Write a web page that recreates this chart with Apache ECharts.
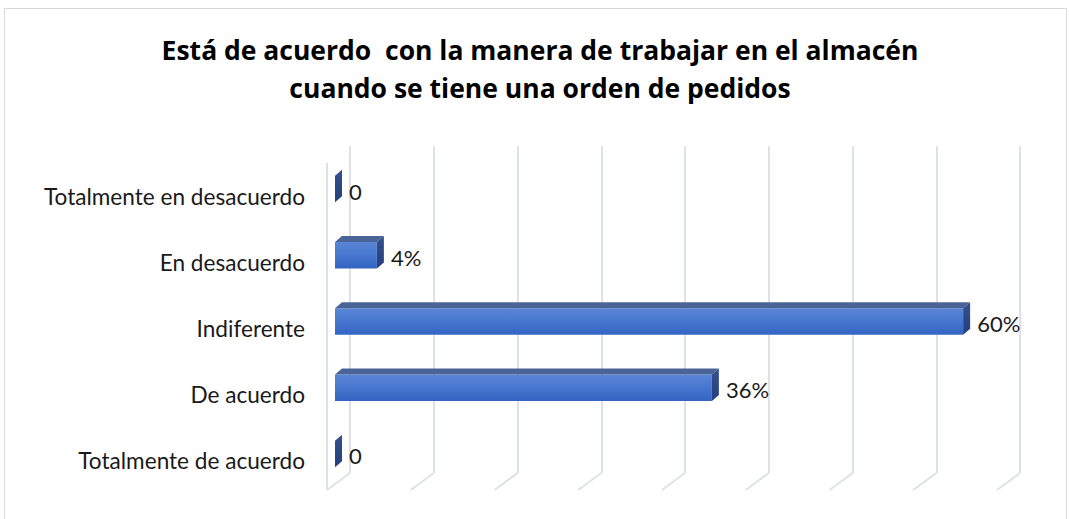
<!DOCTYPE html>
<html><head><meta charset="utf-8">
<script src="https://cdn.jsdelivr.net/npm/echarts@6/dist/echarts.min.js"></script>
<style>html,body{margin:0;padding:0;background:#fff}#c{width:1069px;height:519px}</style>
</head><body><div id="c"></div>
<script>
// ---- data ----
const titleLines = ['Está de acuerdo  con la manera de trabajar en el almacén', 'cuando se tiene una orden de pedidos'];
const categories = ['Totalmente en desacuerdo', 'En desacuerdo', 'Indiferente', 'De acuerdo', 'Totalmente de acuerdo'];
const values = [0, 0.04, 0.60, 0.36, 0];
const axisMin = 0, axisMax = 0.64, axisStep = 0.08;
const gridTicks = [0, 0.08, 0.16, 0.24, 0.32, 0.40, 0.48, 0.56, 0.64];

// ---- style ----
const FONT = 'Lato, "Open Sans", sans-serif';
const TITLE_FONT = '"Open Sans", Lato, sans-serif';
const gridColor = '#dde1e8';
const WALL_DX = 23, WALL_DY = 17;   // wall depth (front -> back)
const BAR_DX = 7, BAR_DY = 6;       // bar depth

function fmt(v) { return v === 0 ? '0' : Math.round(v * 100) + '%'; }

const chart = echarts.init(document.getElementById('c'), null, { renderer: 'svg' });
chart.setOption({
  backgroundColor: '#ffffff',
  animation: false,
  graphic: [
    { type: 'rect', shape: { x: 4.5, y: 8.5, width: 1062, height: 520 }, style: { fill: 'none', stroke: '#d9d9d9', lineWidth: 1 }, silent: true },
    { type: 'text', x: 540, y: 50, style: { text: titleLines[0], font: 'bold 26.5px ' + TITLE_FONT, fill: '#000', align: 'center', verticalAlign: 'middle' } },
    { type: 'text', x: 540, y: 88, style: { text: titleLines[1], font: 'bold 26.5px ' + TITLE_FONT, fill: '#000', align: 'center', verticalAlign: 'middle' } }
  ],
  grid: [
    { left: 335, right: 64, top: 156, bottom: 32 },   // bar front faces
    { left: 350, right: 49, top: 146, bottom: 46 },   // back wall
    { left: 335, right: 64, top: 163, bottom: 25 }    // category labels
  ],
  xAxis: [
    { type: 'value', gridIndex: 0, min: axisMin, max: axisMax, interval: axisStep, show: false },
    { type: 'value', gridIndex: 1, min: axisMin, max: axisMax, interval: axisStep,
      axisLine: { show: false }, axisTick: { show: false }, axisLabel: { show: false },
      splitLine: { show: true, lineStyle: { color: gridColor, width: 2 } } },
    { type: 'value', gridIndex: 2, min: axisMin, max: axisMax, show: false }
  ],
  yAxis: [
    { type: 'category', gridIndex: 0, data: categories, inverse: true, show: false },
    { type: 'value', gridIndex: 1, min: 0, max: 1, show: false },
    { type: 'category', gridIndex: 2, data: categories, inverse: true,
      axisLine: { show: false }, axisTick: { show: false }, splitLine: { show: false },
      axisLabel: { margin: 30, fontSize: 22.6, fontFamily: FONT, color: '#1a1a1a' } }
  ],
  series: [
    {
      type: 'custom', xAxisIndex: 1, yAxisIndex: 1, silent: true, z: 1,
      data: gridTicks.map(t => [t]),
      renderItem: function (params, api) {
        const v = api.value(0);
        const top = api.coord([v, 1]), bot = api.coord([v, 0]);
        const ch = [{ type: 'line', shape: { x1: bot[0], y1: bot[1], x2: bot[0] - WALL_DX, y2: bot[1] + WALL_DY },
          style: { stroke: gridColor, lineWidth: 2 } }];
        if (params.dataIndex === 0) {
          ch.push({ type: 'line', shape: { x1: top[0] - WALL_DX, y1: top[1] + WALL_DY, x2: bot[0] - WALL_DX, y2: bot[1] + WALL_DY },
            style: { stroke: gridColor, lineWidth: 2 } });
        }
        return { type: 'group', children: ch };
      }
    },
    {
      type: 'custom', xAxisIndex: 0, yAxisIndex: 0, silent: true, z: 5,
      data: values.map((v, i) => [v, i]),
      encode: { x: 0, y: 1 },
      renderItem: function (params, api) {
        const v = api.value(0), ci = api.value(1);
        const p0 = api.coord([0, ci]), p1 = api.coord([v, ci]);
        const h = api.size([0, 1])[1] * 0.4;
        const yt = p0[1] - h / 2, yb = p0[1] + h / 2;
        const x0 = p0[0], x1 = p1[0];
        const ch = [];
        if (x1 - x0 > 0.5) {
          ch.push({ type: 'rect', shape: { x: x0, y: yt, width: x1 - x0, height: h },
            style: { fill: new echarts.graphic.LinearGradient(0, 0, 0, 1, [
              { offset: 0, color: '#5b86d6' }, { offset: 0.5, color: '#4676cf' }, { offset: 1, color: '#3364c2' }]) } });
          ch.push({ type: 'polygon', shape: { points: [[x0, yt], [x1, yt], [x1 + BAR_DX, yt - BAR_DY], [x0 + BAR_DX, yt - BAR_DY]] },
            style: { fill: '#4a6497' } });
        }
        ch.push({ type: 'polygon', shape: { points: [[x1, yt], [x1 + BAR_DX, yt - BAR_DY], [x1 + BAR_DX, yb - BAR_DY], [x1, yb]] },
          style: { fill: new echarts.graphic.LinearGradient(0, 0, 0, 1, [
            { offset: 0, color: '#34528f' }, { offset: 1, color: '#243f7a' }]) } });
        ch.push({ type: 'text', style: { text: fmt(v), x: x1 + BAR_DX + 7, y: p0[1] + 2, font: '22px ' + FONT,
          fill: '#1a1a1a', align: 'left', verticalAlign: 'middle' } });
        return { type: 'group', children: ch };
      }
    }
  ]
});
</script>
</body></html>
